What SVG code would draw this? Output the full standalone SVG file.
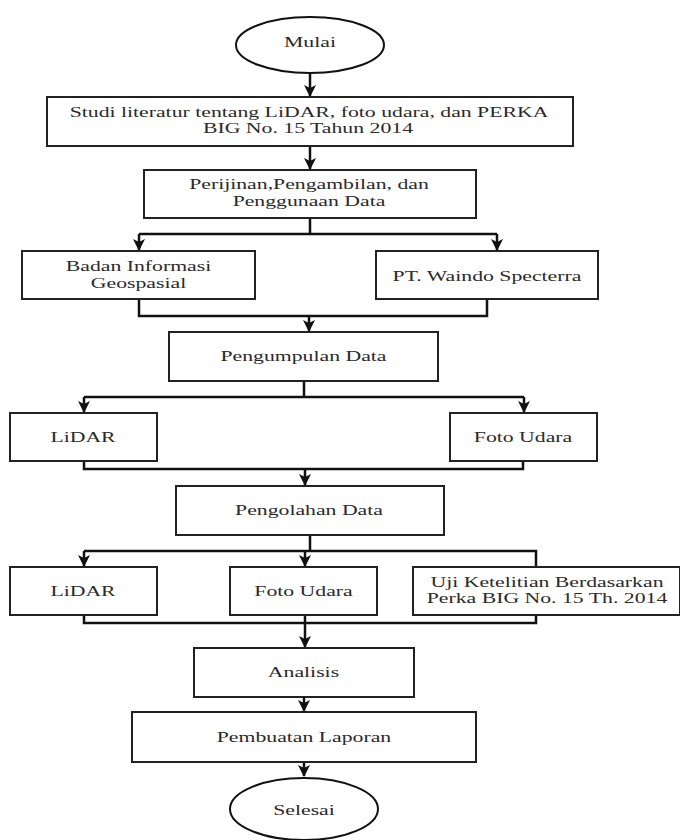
<svg xmlns="http://www.w3.org/2000/svg" width="680" height="840" viewBox="0 0 680 840">
<defs>
<style>
.bx{fill:#fff;stroke:#222;stroke-width:2}
.el{fill:#fff;stroke:#111;stroke-width:2}
text{font-family:"Liberation Serif","DejaVu Serif",serif;font-size:15px;fill:#2a2a2a;text-anchor:middle}
.c{fill:none;stroke:#111;stroke-width:2.5}
</style>
<marker id="ah" viewBox="0 0 12 12" refX="11" refY="6" markerWidth="12" markerHeight="12" markerUnits="userSpaceOnUse" orient="auto">
<path d="M0,0 L12,6 L0,12 L3,6 z" fill="#111"/>
</marker>
</defs>
<rect width="680" height="840" fill="#fff"/>
<g id="connectors">
<path class="c" d="M310,73 V96" marker-end="url(#ah)"/>
<path class="c" d="M310,146 V169" marker-end="url(#ah)"/>
<path class="c" d="M310,218 V234 M139,234 H497"/>
<path class="c" d="M139,234 V250" marker-end="url(#ah)"/>
<path class="c" d="M497,234 V250" marker-end="url(#ah)"/>
<path class="c" d="M139,299 V316 H487 V299"/>
<path class="c" d="M309,316 V331" marker-end="url(#ah)"/>
<path class="c" d="M304,381 V397 M84,397 H524"/>
<path class="c" d="M84,397 V412" marker-end="url(#ah)"/>
<path class="c" d="M524,397 V412" marker-end="url(#ah)"/>
<path class="c" d="M84,461 V469 H523 V461"/>
<path class="c" d="M305,469 V485" marker-end="url(#ah)"/>
<path class="c" d="M310,535 V551 M84,551 H536 V567"/>
<path class="c" d="M84,551 V566" marker-end="url(#ah)"/>
<path class="c" d="M305,551 V566" marker-end="url(#ah)"/>
<path class="c" d="M84,615 V623 H536 V615"/>
<path class="c" d="M305,615 V647" marker-end="url(#ah)"/>
<path class="c" d="M304,697 V711" marker-end="url(#ah)"/>
<path class="c" d="M304,762 V776" marker-end="url(#ah)"/>
</g>
<g id="mulai">
<ellipse class="el" cx="310" cy="45" rx="74" ry="28"/>
<text transform="translate(310,47) scale(1.45,1)">Mulai</text>
</g>
<g id="studi">
<rect class="bx" x="47" y="97" width="526" height="49"/>
<text transform="translate(309,117) scale(1.45,1)">Studi literatur tentang LiDAR, foto udara, dan PERKA</text>
<text transform="translate(308,133) scale(1.45,1)">BIG No. 15 Tahun 2014</text>
</g>
<g id="perijinan">
<rect class="bx" x="144" y="170" width="332" height="48"/>
<text transform="translate(309,189) scale(1.45,1)">Perijinan,Pengambilan, dan</text>
<text transform="translate(309,206) scale(1.45,1)">Penggunaan Data</text>
</g>
<g id="big">
<rect class="bx" x="22" y="251" width="233" height="48"/>
<text transform="translate(138.5,271) scale(1.45,1)">Badan Informasi</text>
<text transform="translate(138.5,288) scale(1.45,1)">Geospasial</text>
</g>
<g id="waindo">
<rect class="bx" x="376" y="251" width="222" height="48"/>
<text transform="translate(487,281) scale(1.45,1)">PT. Waindo Specterra</text>
</g>
<g id="pengumpulan">
<rect class="bx" x="169" y="332" width="269" height="49"/>
<text transform="translate(303.5,361) scale(1.45,1)">Pengumpulan Data</text>
</g>
<g id="lidar1">
<rect class="bx" x="10" y="413" width="147" height="48"/>
<text transform="translate(83,442) scale(1.45,1)">LiDAR</text>
</g>
<g id="foto1">
<rect class="bx" x="450" y="413" width="147" height="48"/>
<text transform="translate(523,442) scale(1.45,1)">Foto Udara</text>
</g>
<g id="pengolahan">
<rect class="bx" x="176" y="486" width="268" height="49"/>
<text transform="translate(309,515) scale(1.45,1)">Pengolahan Data</text>
</g>
<g id="lidar2">
<rect class="bx" x="10" y="567" width="147" height="48"/>
<text transform="translate(83,596) scale(1.45,1)">LiDAR</text>
</g>
<g id="foto2">
<rect class="bx" x="230" y="567" width="147" height="48"/>
<text transform="translate(303.5,596) scale(1.45,1)">Foto Udara</text>
</g>
<g id="uji">
<rect class="bx" x="413" y="567" width="267" height="48"/>
<text transform="translate(547,587) scale(1.45,1)">Uji Ketelitian Berdasarkan</text>
<text transform="translate(547,603) scale(1.45,1)">Perka BIG No. 15 Th. 2014</text>
</g>
<g id="analisis">
<rect class="bx" x="194" y="648" width="220" height="49"/>
<text transform="translate(303.5,677) scale(1.45,1)">Analisis</text>
</g>
<g id="pembuatan">
<rect class="bx" x="132" y="712" width="344" height="50"/>
<text transform="translate(304,742) scale(1.45,1)">Pembuatan Laporan</text>
</g>
<g id="selesai">
<ellipse class="el" cx="304" cy="809" rx="74" ry="31"/>
<text transform="translate(304,815) scale(1.45,1)">Selesai</text>
</g>
</svg>
